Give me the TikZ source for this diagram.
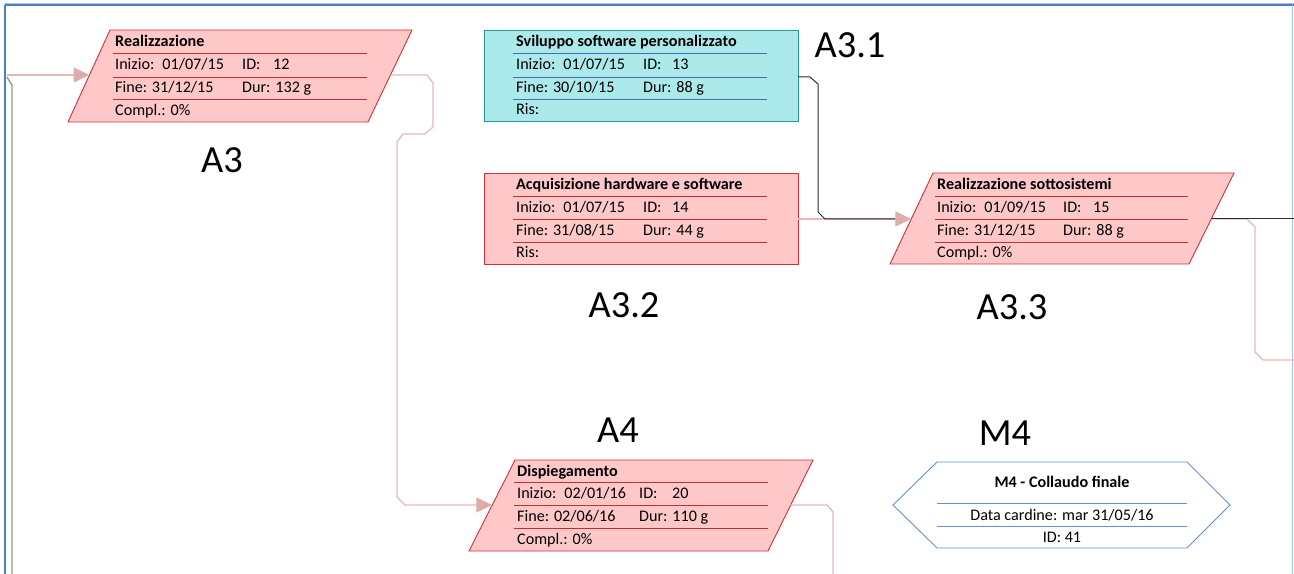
\documentclass[tikz,border=0pt]{standalone}
\usepackage{fontspec}
\setmainfont{Carlito}
\usetikzlibrary{arrows.meta}
\definecolor{pinkfill}{RGB}{255,200,200}
\definecolor{pinkborder}{RGB}{215,45,55}
\definecolor{pinkrule}{RGB}{195,45,45}
\definecolor{conn}{RGB}{230,185,185}
\definecolor{arrowpink}{RGB}{222,172,172}
\definecolor{tealfill}{RGB}{172,233,235}
\definecolor{tealborder}{RGB}{40,150,155}
\definecolor{bluerule}{RGB}{70,110,175}
\definecolor{hexblue}{RGB}{100,145,205}
\definecolor{frameblue}{RGB}{80,125,195}
\definecolor{framelight}{RGB}{170,195,230}
\definecolor{darkconn}{RGB}{45,45,45}
\definecolor{grayconn}{RGB}{150,150,150}
\begin{document}
\begin{tikzpicture}[x=1bp,y=-1bp,
  txt/.style={anchor=base west,inner sep=0pt,font=\fontsize{16.2}{19}\selectfont},
  ttl/.style={anchor=base west,inner sep=0pt,font=\fontsize{16.2}{19}\selectfont\bfseries},
  ctxt/.style={anchor=base,inner sep=0pt,font=\fontsize{16.2}{19}\selectfont},
  big/.style={inner sep=0pt,font=\fontsize{38.5}{42}\selectfont},
  taskbox/.style={draw=pinkborder,fill=pinkfill,line width=0.9bp},
  tealbox/.style={draw=tealborder,fill=tealfill,line width=0.9bp},
  prule/.style={draw=pinkrule,line width=0.8bp},
  brule/.style={draw=bluerule,line width=0.8bp},
  hexrule/.style={draw=hexblue,line width=0.8bp},
  pconn/.style={draw=conn,line width=1.3bp},
  dconn/.style={draw=darkconn,line width=1bp},
  parrow/.style={pconn,-{Triangle[length=16bp,width=15bp,fill=arrowpink,color=arrowpink]}}
]
\useasboundingbox (0,0) rectangle (1294,574);
% frame
\draw[framelight,line width=1bp] (3.5,3.5) -- (1294,3.5);
\draw[frameblue,line width=1.6bp] (5,5.2) -- (1294,5.2);
\draw[frameblue,line width=1.6bp] (5,5) -- (5,574);
\draw[framelight,line width=1bp] (1292.5,5) -- (1292.5,574);
\draw[grayconn,line width=1.4bp] (7,77) -- (12,85) -- (12,574);

% ---- A3 Realizzazione
\draw[taskbox] (110,30) -- (412,30) -- (368,122) -- (68,122) -- cycle;
\foreach \yy in {53,77,99} \draw[prule] (113,\yy) -- (367,\yy);
\node[ttl] (a3t) at (115,46.5) {Realizzazione};
\node[txt] (a3i) at (115,70) {Inizio:\hspace{0.5em}01/07/15};
\node[txt] (a3id) at (242,70) {\makebox[31bp][l]{ID:}12};
\node[txt] (a3f) at (115,93) {Fine: 31/12/15};
\node[txt] (a3d) at (242,93) {Dur: 132 g};
\node[txt] (a3c) at (115,115.5) {Compl.: 0\%};
\node[big] (la3) at (222,160) {A3};

% ---- A3.1 Sviluppo
\draw[tealbox] (484,30) rectangle (798,121);
\foreach \yy in {53,77,99} \draw[brule] (513,\yy) -- (767,\yy);
\node[ttl] (s1t) at (516,46.5) {Sviluppo software personalizzato};
\node[txt] (s1i) at (516,70) {Inizio:\hspace{0.5em}01/07/15};
\node[txt] (s1id) at (643,70) {\makebox[29bp][l]{ID:}13};
\node[txt] (s1f) at (516,93) {Fine: 30/10/15};
\node[txt] (s1d) at (643,93) {Dur: 88 g};
\node[txt] (s1r) at (516,115) {Ris:};
\node[big] (la31) at (850,45) {A3.1};

% ---- A3.2 Acquisizione
\draw[taskbox] (484,173) rectangle (798,264);
\foreach \yy in {196,219,242} \draw[prule] (513,\yy) -- (767,\yy);
\node[ttl] (s2t) at (516,189.5) {Acquisizione hardware e software};
\node[txt] (s2i) at (516,212.5) {Inizio:\hspace{0.5em}01/07/15};
\node[txt] (s2id) at (643,212.5) {\makebox[29bp][l]{ID:}14};
\node[txt] (s2f) at (516,235.5) {Fine: 31/08/15};
\node[txt] (s2d) at (643,235.5) {Dur: 44 g};
\node[txt] (s2r) at (516,258) {Ris:};
\node[big] (la32) at (624,305) {A3.2};

% ---- A3.3 Realizzazione sottosistemi
\draw[taskbox] (933,173) -- (1234,173) -- (1189,264) -- (890,264) -- cycle;
\foreach \yy in {196,219,242} \draw[prule] (935,\yy) -- (1188,\yy);
\node[ttl] (s3t) at (937,189.5) {Realizzazione sottosistemi};
\node[txt] (s3i) at (937,212.5) {Inizio:\hspace{0.5em}01/09/15};
\node[txt] (s3id) at (1063,212.5) {\makebox[30bp][l]{ID:}15};
\node[txt] (s3f) at (937,235.5) {Fine: 31/12/15};
\node[txt] (s3d) at (1063,235.5) {Dur: 88 g};
\node[txt] (s3c) at (937,258) {Compl.: 0\%};
\node[big] (la33) at (1012,307) {A3.3};

% ---- A4 Dispiegamento
\draw[taskbox] (515,460) -- (813,460) -- (768,551) -- (469,551) -- cycle;
\foreach \yy in {482,505,528} \draw[prule] (514,\yy) -- (768,\yy);
\node[ttl] (a4t) at (517,476) {Dispiegamento};
\node[txt] (a4i) at (517,498.5) {Inizio:\hspace{0.5em}02/01/16};
\node[txt] (a4id) at (639,498.5) {\makebox[33bp][l]{ID:}20};
\node[txt] (a4f) at (517,521.5) {Fine: 02/06/16};
\node[txt] (a4d) at (639,521.5) {Dur: 110 g};
\node[txt] (a4c) at (517,544.5) {Compl.: 0\%};
\node[big] (la4) at (618,430) {A4};

% ---- M4 milestone
\draw[hexblue,line width=0.9bp,fill=white] (893,505) -- (937,462) -- (1187,462) -- (1230,505) -- (1187,548) -- (937,548) -- cycle;
\draw[hexrule] (937,503) -- (1187,503);
\draw[hexrule] (937,526) -- (1187,526);
\node[ctxt,font=\fontsize{16.2}{19}\selectfont\bfseries] (m4t) at (1062,487) {M4 - Collaudo finale};
\node[ctxt] (m4d) at (1062,520) {Data cardine: mar 31/05/16};
\node[ctxt] (m4id) at (1062,542) {ID: 41};
\node[big] (lm4) at (1005,433) {M4};

% ---- connector anchors
\coordinate (inA3) at (7,75);
\coordinate (a3in) at (89.5,75);
\coordinate (a3out) at (390.5,75);
\coordinate (a4in) at (492.3,505);
\coordinate (a4out) at (790.7,505);
\coordinate (s1out) at (798,77);
\coordinate (s2out) at (798,219);
\coordinate (s3in) at (911.3,219);
\coordinate (s3out) at (1211,219);
\coordinate (edgeR1) at (1294,219);
\coordinate (edgeR2) at (1294,360);
\coordinate (edgeB1) at (833,574);

% ---- connectors
\draw[parrow] (inA3) -- (a3in);
\draw[parrow] (a3out) -- (427,75) -- (433,83) -- (433,127) -- (425,134) -- (403,134) -- (397,142) -- (397,497) -- (405,505) -- (a4in);
\draw[pconn] (a4out) -- (827,505) -- (833,512) -- (edgeB1);
\draw[parrow] (s2out) -- (s3in);
\draw[dconn] (s1out) -- (810,77) -- (818,84) -- (818,212) -- (825,219) -- (895,219);
\draw[pconn] (s3out) -- (1247,219) -- (1255,227) -- (1255,352) -- (1263,360) -- (edgeR2);
\draw[dconn] (s3out) -- (edgeR1);
\end{tikzpicture}
\end{document}
